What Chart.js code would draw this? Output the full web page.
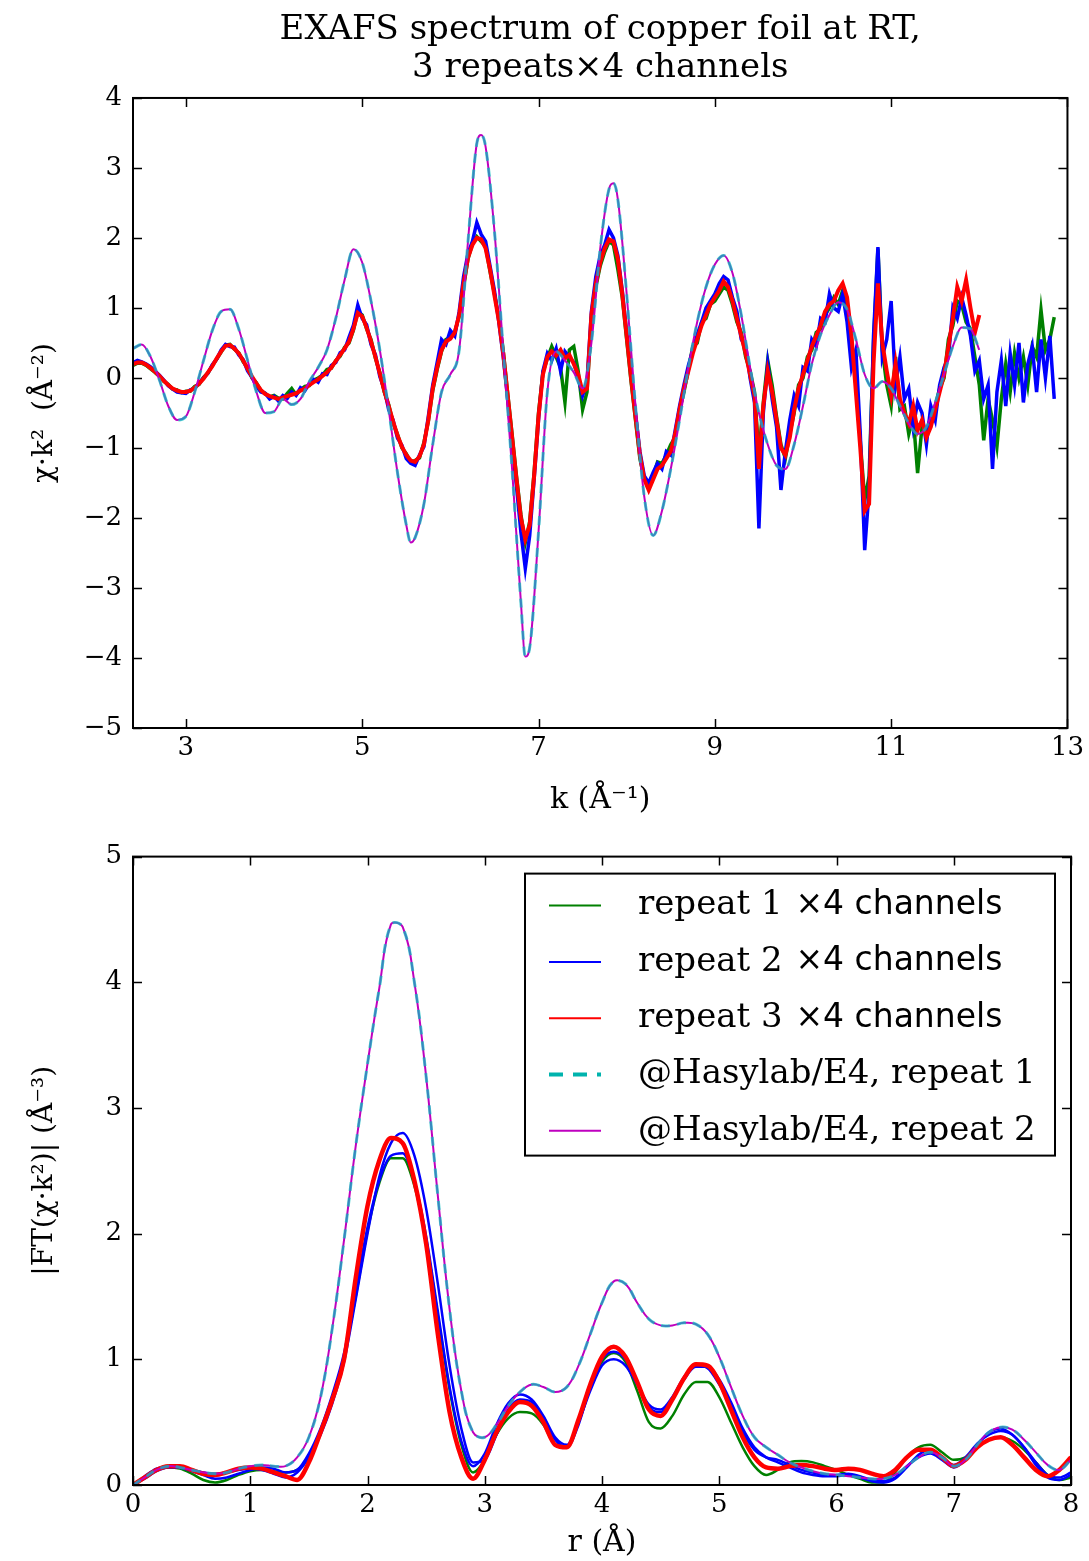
<!DOCTYPE html>
<html>
<head>
<meta charset="utf-8">
<script src="https://cdn.jsdelivr.net/npm/chart.js@4.4.1/dist/chart.umd.min.js"></script>
<style>
  body { margin: 0; background: #fff; }
  .panel { position: absolute; left: 0; }
</style>
</head>
<body>
<div class="panel" style="top:0"><canvas id="chi" width="1089" height="830" style="width:1089px;height:830px"></canvas></div>
<div class="panel" style="top:830px"><canvas id="ft" width="1089" height="731" style="width:1089px;height:731px"></canvas></div>
<script>
// ---- data : k-space, measured on a 0.05 grid starting at k = 2.40
const kStart = 2.4;
const kStep = 0.05;
const kTicks = [3, 5, 7, 9, 11, 13];
const chiTicks = [-5, -4, -3, -2, -1, 0, 1, 2, 3, 4];

const chiRepeat1 = [
  0.18,0.21,0.21,0.18,0.13,0.08,0.02,-0.05,-0.09,-0.16,
  -0.17,-0.21,-0.19,-0.19,-0.12,-0.09,0.01,0.07,0.18,0.27,
  0.37,0.47,0.48,0.41,0.36,0.23,0.15,0.00,-0.07,-0.18,
  -0.22,-0.27,-0.25,-0.29,-0.30,-0.22,-0.15,-0.24,-0.17,-0.12,
  -0.11,-0.03,0.00,0.04,0.12,0.14,0.25,0.31,0.44,0.50,
  0.68,0.95,0.90,0.70,0.55,0.28,0.08,-0.20,-0.38,-0.64,
  -0.80,-1.00,-1.08,-1.20,-1.18,-1.14,-0.92,-0.62,-0.18,0.12,
  0.38,0.55,0.58,0.66,0.88,1.30,1.70,1.92,2.02,1.95,
  1.88,1.52,1.20,0.85,0.38,-0.22,-0.80,-1.40,-1.95,-2.35,
  -2.05,-1.35,-0.50,0.08,0.28,0.45,0.30,0.15,-0.35,0.40,
  0.45,0.10,-0.45,-0.20,0.85,1.30,1.60,1.80,1.95,1.90,
  1.55,1.15,0.55,-0.05,-0.60,-1.15,-1.45,-1.55,-1.40,-1.20,
  -1.22,-1.10,-0.95,-0.85,-0.45,-0.20,0.12,0.45,0.50,0.80,
  0.85,1.05,1.10,1.20,1.30,1.25,1.05,0.80,0.65,0.30,
  0.10,-0.20,-1.10,-0.35,0.25,-0.10,-0.55,-0.95,-1.15,-0.80,
  -0.50,-0.10,0.00,0.30,0.40,0.65,0.70,0.90,1.00,1.15,
  1.05,1.25,1.00,0.55,-0.10,-0.90,-1.75,-1.40,0.50,1.85,
  0.40,-0.10,-0.40,0.30,-0.45,-0.40,-0.80,-0.55,-1.36,-0.70,
  -0.80,-0.55,-0.40,-0.15,0.00,0.55,0.75,1.10,1.05,0.80,
  0.70,0.30,-0.10,-0.89,-0.30,-0.60,-0.98,-0.30,0.20,-0.20,
  0.35,0.00,0.30,-0.10,0.45,0.30,0.97,0.40,0.55,0.87
];
const chiRepeat2 = [
  0.22,0.25,0.23,0.20,0.16,0.10,0.04,-0.03,-0.11,-0.16,
  -0.20,-0.21,-0.22,-0.17,-0.15,-0.07,0.00,0.07,0.19,0.27,
  0.40,0.48,0.45,0.44,0.33,0.26,0.10,0.01,-0.12,-0.20,
  -0.22,-0.30,-0.26,-0.33,-0.25,-0.29,-0.20,-0.25,-0.14,-0.18,
  -0.08,-0.02,-0.06,0.06,0.05,0.18,0.22,0.36,0.40,0.58,
  0.75,1.04,0.85,0.76,0.48,0.33,0.02,-0.16,-0.45,-0.60,
  -0.86,-0.96,-1.15,-1.22,-1.25,-1.10,-0.98,-0.55,-0.10,0.22,
  0.55,0.48,0.68,0.60,0.95,1.45,1.78,1.95,2.22,2.05,
  1.95,1.60,1.25,0.80,0.30,-0.30,-0.95,-1.55,-2.20,-2.72,
  -2.25,-1.45,-0.60,0.10,0.35,0.25,0.42,0.10,0.38,0.30,
  0.22,0.00,-0.25,-0.05,0.95,1.45,1.75,1.90,2.12,2.00,
  1.75,1.25,0.65,0.05,-0.50,-1.05,-1.40,-1.50,-1.35,-1.22,
  -1.30,-1.05,-1.10,-0.75,-0.40,-0.10,0.18,0.40,0.62,0.80,
  1.00,1.10,1.20,1.35,1.45,1.40,1.15,0.95,0.55,0.45,
  0.00,-0.35,-2.15,-0.50,0.20,-0.30,-0.70,-1.60,-1.05,-0.60,
  -0.25,-0.40,0.15,0.10,0.55,0.45,0.85,0.80,1.20,1.00,
  0.95,1.20,0.80,0.15,0.40,-0.80,-2.46,-1.60,0.60,1.87,
  0.30,0.55,1.10,-0.10,0.30,-0.30,-0.15,-0.70,-0.35,-0.50,
  -0.95,-0.40,-0.60,-0.10,0.15,0.30,1.00,0.85,1.15,0.90,
  0.60,0.10,0.25,-0.30,-0.10,-1.30,-0.20,0.25,-0.40,0.35,
  -0.10,0.50,-0.35,0.20,0.45,-0.20,0.55,0.00,0.60,-0.30
];
const chiRepeat3 = [
  0.20,0.22,0.22,0.19,0.14,0.09,0.03,-0.04,-0.10,-0.15,
  -0.18,-0.20,-0.20,-0.18,-0.14,-0.08,-0.01,0.08,0.17,0.28,
  0.38,0.46,0.47,0.42,0.35,0.25,0.13,0.02,-0.08,-0.17,
  -0.23,-0.26,-0.28,-0.30,-0.28,-0.26,-0.24,-0.22,-0.18,-0.15,
  -0.10,-0.06,-0.02,0.03,0.08,0.15,0.24,0.33,0.42,0.52,
  0.70,0.93,0.88,0.72,0.52,0.30,0.06,-0.18,-0.40,-0.62,
  -0.82,-0.98,-1.10,-1.18,-1.20,-1.12,-0.95,-0.60,-0.15,0.15,
  0.40,0.52,0.56,0.65,0.90,1.35,1.72,1.90,2.00,1.98,
  1.85,1.55,1.18,0.82,0.35,-0.25,-0.85,-1.45,-2.00,-2.30,
  -2.10,-1.40,-0.55,0.05,0.30,0.38,0.32,0.40,0.28,0.33,
  0.20,0.05,-0.20,-0.15,0.90,1.35,1.65,1.85,1.98,1.95,
  1.70,1.20,0.60,0.00,-0.55,-1.10,-1.45,-1.60,-1.45,-1.30,
  -1.25,-1.15,-1.05,-0.80,-0.45,-0.15,0.10,0.35,0.55,0.75,
  0.90,1.05,1.15,1.25,1.38,1.30,1.10,0.85,0.60,0.35,
  0.05,-0.25,-1.30,-0.40,0.10,-0.20,-0.60,-1.00,-1.10,-0.85,
  -0.45,-0.15,0.05,0.25,0.45,0.60,0.75,0.95,1.05,1.10,
  1.25,1.35,1.15,0.60,-0.20,-1.00,-1.90,-1.80,0.20,1.35,
  0.50,0.10,-0.25,0.20,-0.30,-0.50,-0.65,-0.40,-0.75,-0.60,
  -0.85,-0.70,-0.45,-0.20,0.05,0.45,0.85,1.30,1.10,1.40,
  1.00,0.65,0.90
];

// reference (Hasylab/E4) spectrum, smooth
const hasyK = [2.4,2.5,2.6,2.7,2.8,2.9,3.0,3.1,3.2,3.3,3.4,3.5,3.6,3.7,3.8,3.9,4.0,4.1,4.2,4.3,
  4.4,4.5,4.6,4.7,4.8,4.9,5.0,5.1,5.2,5.3,5.4,5.5,5.55,5.6,5.7,5.8,5.9,6.0,6.1,6.2,
  6.3,6.35,6.4,6.5,6.6,6.7,6.8,6.85,6.9,7.0,7.1,7.2,7.3,7.4,7.5,7.6,7.7,7.8,7.85,7.9,
  8.0,8.1,8.2,8.3,8.4,8.5,8.6,8.7,8.8,8.9,9.0,9.1,9.2,9.3,9.4,9.5,9.6,9.7,9.8,9.9,
  10.0,10.1,10.2,10.3,10.4,10.5,10.6,10.7,10.8,10.9,11.0,11.1,11.2,11.3,11.4,11.5,11.6,11.7,11.8,11.9,12.0];
const hasyChi = [0.42,0.48,0.30,-0.03,-0.40,-0.60,-0.55,-0.20,0.25,0.68,0.95,0.98,0.70,0.25,-0.20,-0.50,-0.48,-0.30,-0.38,-0.30,
  -0.05,0.15,0.40,0.85,1.40,1.84,1.65,1.10,0.40,-0.45,-1.35,-2.10,-2.35,-2.28,-1.80,-0.95,-0.20,0.05,0.40,1.95,
  3.35,3.47,3.30,2.10,0.40,-1.30,-3.20,-3.98,-3.85,-2.20,-0.20,0.38,0.25,0.08,-0.15,0.50,1.85,2.70,2.78,2.55,
  1.20,-0.40,-1.70,-2.25,-1.90,-1.30,-0.60,0.15,0.80,1.30,1.62,1.75,1.50,0.90,0.15,-0.50,-0.95,-1.25,-1.30,-0.95,
  -0.40,0.20,0.62,0.90,1.08,0.98,0.55,0.05,-0.15,-0.05,-0.15,-0.40,-0.65,-0.80,-0.70,-0.35,0.05,0.45,0.72,0.70,0.40];

// ---- data : r-space, 0.1 grid from r = 0
const rStep = 0.1;
const rTicks = [0, 1, 2, 3, 4, 5, 6, 7, 8];
const ftTicks = [0, 1, 2, 3, 4, 5];

const ftRepeat1 = [
  0.00,0.06,0.12,0.14,0.13,0.09,0.04,0.02,0.04,0.08,
  0.11,0.12,0.11,0.10,0.12,0.22,0.42,0.70,1.02,1.50,
  2.02,2.40,2.60,2.60,2.38,1.95,1.35,0.76,0.32,0.10,
  0.20,0.40,0.53,0.58,0.57,0.48,0.32,0.30,0.50,0.78,
  0.98,1.05,0.98,0.75,0.50,0.45,0.55,0.72,0.82,0.82,
  0.70,0.50,0.30,0.15,0.08,0.12,0.18,0.19,0.18,0.15,
  0.12,0.08,0.05,0.02,0.02,0.10,0.22,0.30,0.32,0.26,
  0.20,0.22,0.30,0.36,0.38,0.35,0.28,0.18,0.08,0.04,
  0.06
];
const ftRepeat2a = [
  0.00,0.07,0.13,0.15,0.14,0.11,0.08,0.05,0.06,0.09,
  0.12,0.14,0.13,0.10,0.12,0.25,0.45,0.72,1.05,1.55,
  2.05,2.42,2.62,2.64,2.42,1.98,1.38,0.78,0.35,0.15,
  0.25,0.48,0.65,0.72,0.68,0.55,0.38,0.32,0.50,0.75,
  0.95,1.00,0.95,0.80,0.64,0.60,0.70,0.86,0.95,0.93,
  0.80,0.62,0.42,0.28,0.22,0.20,0.16,0.12,0.10,0.08,
  0.08,0.09,0.07,0.04,0.03,0.06,0.15,0.22,0.25,0.20,
  0.14,0.20,0.32,0.42,0.45,0.40,0.30,0.18,0.08,0.06,
  0.10
];
const ftRepeat2b = [
  0.00,0.05,0.11,0.14,0.14,0.12,0.10,0.09,0.10,0.12,
  0.13,0.12,0.09,0.06,0.10,0.22,0.40,0.65,0.98,1.48,
  2.00,2.45,2.72,2.80,2.62,2.20,1.60,0.95,0.45,0.18,
  0.20,0.40,0.60,0.68,0.66,0.54,0.36,0.30,0.48,0.78,
  1.00,1.06,1.00,0.82,0.62,0.58,0.68,0.84,0.94,0.94,
  0.84,0.66,0.45,0.30,0.22,0.18,0.14,0.10,0.08,0.07,
  0.07,0.08,0.06,0.03,0.02,0.05,0.14,0.24,0.28,0.22,
  0.16,0.22,0.33,0.40,0.43,0.40,0.30,0.16,0.06,0.04,
  0.08
];
const ftRepeat3 = [
  0.00,0.06,0.12,0.15,0.15,0.12,0.09,0.08,0.10,0.13,
  0.14,0.13,0.10,0.07,0.04,0.18,0.42,0.68,1.00,1.65,
  2.22,2.58,2.76,2.72,2.42,1.92,1.20,0.58,0.22,0.05,
  0.20,0.42,0.58,0.66,0.63,0.50,0.32,0.30,0.52,0.80,
  1.02,1.10,1.02,0.82,0.60,0.55,0.68,0.85,0.96,0.95,
  0.82,0.60,0.38,0.22,0.14,0.13,0.15,0.16,0.15,0.13,
  0.12,0.13,0.12,0.09,0.07,0.12,0.22,0.28,0.28,0.22,
  0.15,0.20,0.30,0.36,0.38,0.32,0.22,0.12,0.07,0.12,
  0.22
];
const ftHasylab = [
  0.00,0.06,0.12,0.15,0.14,0.12,0.10,0.09,0.10,0.13,
  0.15,0.16,0.15,0.15,0.22,0.38,0.70,1.25,1.95,2.70,
  3.35,3.95,4.46,4.44,4.00,3.25,2.30,1.40,0.75,0.42,
  0.38,0.48,0.63,0.74,0.80,0.78,0.74,0.78,0.95,1.20,
  1.45,1.62,1.60,1.45,1.32,1.27,1.27,1.29,1.28,1.20,
  1.02,0.78,0.55,0.38,0.30,0.24,0.18,0.14,0.11,0.09,
  0.08,0.07,0.06,0.05,0.05,0.08,0.15,0.22,0.26,0.22,
  0.15,0.20,0.32,0.42,0.46,0.44,0.36,0.26,0.16,0.12,
  0.20
];

// ---- look
const serif = "'DejaVu Serif', serif";
const sans = "'DejaVu Sans', sans-serif";
Chart.defaults.font.family = serif;
Chart.defaults.color = '#000';

const GREEN = '#008000', BLUE = '#0000ff', RED = '#ff0000';
const CYAN = 'rgba(0,191,191,0.7)', MAGENTA = '#bf00bf';

const kPoints = (vals) => vals.map((v, i) => ({ x: +(kStart + i * kStep).toFixed(2), y: v }));
const rPoints = (vals) => vals.map((v, i) => ({ x: +(i * rStep).toFixed(1), y: v }));
const xyPoints = (xs, ys) => ys.map((v, i) => ({ x: xs[i], y: v }));
const minus = (v) => (v < 0 ? '\u2212' + (-v) : '' + v);

function series(label, data, color, width, order, extra) {
  return Object.assign({
    label: label, data: data, borderColor: color, borderWidth: width,
    pointRadius: 0, tension: 0, fill: false, order: order
  }, extra || {});
}

// matplotlib like frame: box round the axes and inward ticks on all 4 sides
const framePlugin = {
  id: 'mplFrame',
  afterDatasetsDraw(chart) {
    const { ctx, chartArea: a, scales } = chart;
    ctx.save();
    ctx.strokeStyle = '#000';
    ctx.lineWidth = 1.5;
    ctx.beginPath();
    scales.x.ticks.forEach(t => {
      const px = Math.round(scales.x.getPixelForValue(t.value)) + 0.5;
      ctx.moveTo(px, a.bottom); ctx.lineTo(px, a.bottom - 9);
      ctx.moveTo(px, a.top); ctx.lineTo(px, a.top + 9);
    });
    scales.y.ticks.forEach(t => {
      const py = Math.round(scales.y.getPixelForValue(t.value)) + 0.5;
      ctx.moveTo(a.left, py); ctx.lineTo(a.left + 9, py);
      ctx.moveTo(a.right, py); ctx.lineTo(a.right - 9, py);
    });
    ctx.stroke();
    ctx.lineWidth = 2;
    ctx.strokeRect(a.left, a.top, a.right - a.left, a.bottom - a.top);
    ctx.restore();
  }
};

// boxed legend in the upper right corner of the plot
const boxLegend = {
  id: 'boxLegend',
  afterDraw(chart) {
    const { ctx, chartArea: a } = chart;
    const items = chart.data.datasets.filter(d => d.legend);
    const w = 530, h = 282;
    const left = a.right - 16 - w, top = a.top + 17;
    ctx.save();
    ctx.fillStyle = '#fff';
    ctx.fillRect(left, top, w, h);
    ctx.strokeStyle = '#000';
    ctx.lineWidth = 2;
    ctx.strokeRect(left, top, w, h);
    items.forEach((d, i) => {
      const y = top + 32 + i * 56.3;
      ctx.beginPath();
      ctx.setLineDash(d.legend.dash || []);
      ctx.strokeStyle = d.legend.color;
      ctx.lineWidth = d.legend.width;
      ctx.moveTo(left + 24, y);
      ctx.lineTo(left + 76, y);
      ctx.stroke();
      ctx.setLineDash([]);
      ctx.fillStyle = '#000';
      ctx.textBaseline = 'middle';
      const parts = d.label.split('×');
      ctx.font = '34px ' + serif;
      ctx.fillText(parts[0], left + 113, y);
      if (parts.length > 1) {
        const x2 = left + 113 + ctx.measureText(parts[0]).width + 2;
        ctx.font = '33px ' + sans;
        ctx.fillText('×' + parts[1], x2, y);
      }
    });
    ctx.restore();
  }
};

function axes(xMin, xMax, xTicks, xTitle, xHeight, yMin, yMax, yTitle) {
  return {
    x: {
      type: 'linear', min: xMin, max: xMax,
      afterBuildTicks: (ax) => { ax.ticks = xTicks.map(v => ({ value: v })); },
      afterFit: (ax) => { ax.height = xHeight; },
      grid: { display: false, drawTicks: false },
      border: { display: false },
      ticks: { font: { size: 26 }, padding: 5, maxRotation: 0, autoSkip: false, callback: minus },
      title: { display: true, text: xTitle, font: { size: 30 }, padding: { top: 0, bottom: 0 } }
    },
    y: {
      type: 'linear', min: yMin, max: yMax,
      afterFit: (ax) => { ax.width = 133; },
      grid: { display: false, drawTicks: false },
      border: { display: false },
      ticks: { font: { size: 26 }, padding: 11, stepSize: 1, callback: minus },
      title: { display: true, text: yTitle, font: { size: 28 }, padding: { top: 28, bottom: 0 } }
    }
  };
}

// ---- top: chi(k)*k^2
const chiScales = axes(2.4, 13, kTicks, 'k (Å⁻¹)', 102, -5, 4, 'χ·k²  (Å⁻²)');
chiScales.x.title.padding = { top: 0, bottom: 12 };
chiScales.y.afterBuildTicks = (ax) => { ax.ticks = chiTicks.map(v => ({ value: v })); };

new Chart(document.getElementById('chi'), {
  type: 'line',
  data: {
    datasets: [
      series('repeat 1 ×4 channels', kPoints(chiRepeat1), GREEN, 3.5, 5),
      series('repeat 2 ×4 channels', kPoints(chiRepeat2), BLUE, 3.5, 4),
      series('repeat 3 ×4 channels', kPoints(chiRepeat3), RED, 4, 3),
      series('@Hasylab/E4, repeat 2', xyPoints(hasyK, hasyChi), MAGENTA, 2, 2, { tension: 0.4, cubicInterpolationMode: 'monotone' }),
      series('@Hasylab/E4, repeat 1', xyPoints(hasyK, hasyChi), CYAN, 3, 1, { tension: 0.4, cubicInterpolationMode: 'monotone', borderDash: [9, 7] })
    ]
  },
  options: {
    responsive: false,
    animation: false,
    parsing: false,
    layout: { padding: { top: 0, right: 18, bottom: 0, left: 0 } },
    plugins: {
      legend: { display: false },
      tooltip: { enabled: false },
      title: {
        display: true,
        fullSize: false,
        text: ['EXAFS spectrum of copper foil at RT,', '3 repeats×4 channels'],
        font: { size: 34, weight: 'normal', lineHeight: 1.12 },
        padding: { top: 11, bottom: 10.8 },
        color: '#000'
      }
    },
    scales: chiScales
  },
  plugins: [framePlugin]
});

// ---- bottom: |FT|
const ftScales = axes(0, 8, rTicks, 'r (Å)', 76, 0, 5, '|FT(χ·k²)| (Å⁻³)');
ftScales.y.afterBuildTicks = (ax) => { ax.ticks = ftTicks.map(v => ({ value: v })); };

const smooth = { tension: 0.4, cubicInterpolationMode: 'monotone' };
const spline = { tension: 0.4 };
new Chart(document.getElementById('ft'), {
  type: 'line',
  data: {
    datasets: [
      series('repeat 1 ×4 channels', rPoints(ftRepeat1), GREEN, 2.5, 6, Object.assign({ legend: { color: GREEN, width: 2 } }, smooth)),
      series('repeat 2 ×4 channels', rPoints(ftRepeat2a), BLUE, 2.5, 5, Object.assign({ legend: { color: BLUE, width: 2 } }, smooth)),
      series('repeat 2 ×4 channels', rPoints(ftRepeat2b), BLUE, 2.5, 4, smooth),
      series('repeat 3 ×4 channels', rPoints(ftRepeat3), RED, 4.5, 3, Object.assign({ legend: { color: RED, width: 2 } }, smooth)),
      series('@Hasylab/E4, repeat 1', rPoints(ftHasylab), CYAN, 3, 1, Object.assign({ borderDash: [9, 7], legend: { color: '#00b3ad', width: 4, dash: [14, 10] } }, spline)),
      series('@Hasylab/E4, repeat 2', rPoints(ftHasylab), MAGENTA, 2, 2, Object.assign({ legend: { color: MAGENTA, width: 2 } }, spline))
    ]
  },
  options: {
    responsive: false,
    animation: false,
    parsing: false,
    layout: { padding: { top: 23, right: 18, bottom: 0, left: 0 } },
    plugins: {
      legend: { display: false },
      tooltip: { enabled: false }
    },
    scales: ftScales
  },
  plugins: [framePlugin, boxLegend]
});
</script>
</body>
</html>
